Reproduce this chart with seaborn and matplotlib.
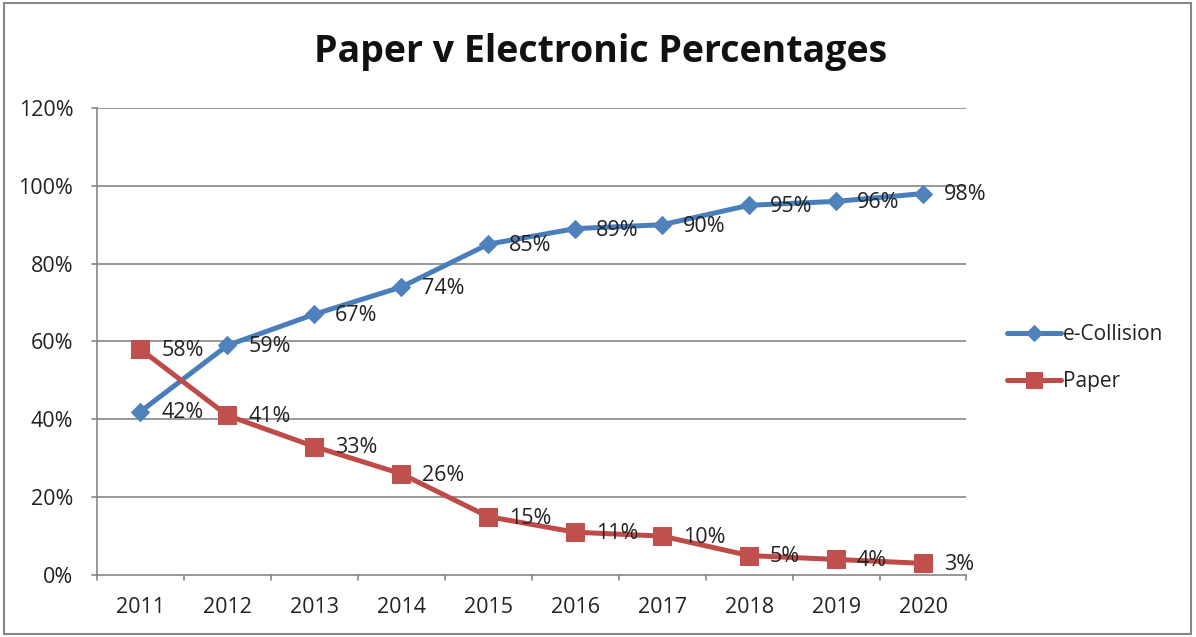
import matplotlib
matplotlib.use("Agg")
import matplotlib.pyplot as plt
import seaborn as sns
import pandas as pd
from matplotlib.patches import Rectangle

years = ["2011", "2012", "2013", "2014", "2015", "2016", "2017", "2018", "2019", "2020"]
e_collision = [42, 59, 67, 74, 85, 89, 90, 95, 96, 98]
paper = [58, 41, 33, 26, 15, 11, 10, 5, 4, 3]
series_names = ["e-Collision", "Paper"]
y_ticks = [0, 20, 40, 60, 80, 100, 120]

sns.set_theme(style="white")
plt.rcParams["font.family"] = ["Open Sans", "DejaVu Sans"]

df = pd.DataFrame({
    "year": list(range(len(years))) * 2,
    "value": e_collision + paper,
    "series": [series_names[0]] * len(years) + [series_names[1]] * len(years),
})

fig = plt.figure(figsize=(11.96, 6.37), dpi=100)
ax = fig.add_axes([0.0811, 0.0973, 0.727, 0.7332])

colors = {"e-Collision": "#4A7EBB", "Paper": "#BE4B48"}
marker_colors = {"e-Collision": "#4F81BD", "Paper": "#C0504D"}
markers = {"e-Collision": "D", "Paper": "s"}
msizes = {"e-Collision": 9, "Paper": 13}

# horizontal gridlines
for t in y_ticks[1:]:
    ax.axhline(t, color="#868686", lw=1.2, zorder=0)

for name in series_names:
    sub = df[df["series"] == name]
    sns.lineplot(data=sub, x="year", y="value", ax=ax, color=colors[name],
                 lw=3.6, marker=markers[name], markersize=msizes[name],
                 markerfacecolor=marker_colors[name], markeredgecolor=marker_colors[name],
                 label=name, zorder=3)
    for xi, v in zip(sub["year"], sub["value"]):
        ax.annotate(f"{v}%", (xi, v), xytext=(15, -1), textcoords="offset points",
                    va="center", ha="left", fontsize=15.5, color="#222222", zorder=4)

ax.set_xlim(-0.5, len(years) - 0.5)
ax.set_ylim(0, 120)
ax.set_yticks(y_ticks)
ax.set_yticklabels([f"{t}%" for t in y_ticks], fontsize=15.5, color="#222222")
ax.set_xticks(range(len(years)))
ax.set_xticklabels(years, fontsize=15.5, color="#222222")
ax.tick_params(axis="x", length=0, pad=16)
ax.tick_params(axis="y", length=0, pad=17)
ax.set_xlabel("")
ax.set_ylabel("")

# category boundary ticks below the axis and small y ticks
for b in [i - 0.5 for i in range(len(years) + 1)]:
    ax.plot([b, b], [0, -1.3], color="#868686", lw=1.2, clip_on=False)
for t in y_ticks:
    ax.plot([-0.5, -0.56], [t, t], color="#868686", lw=1.2, clip_on=False)

for side in ["top", "right"]:
    ax.spines[side].set_visible(False)
for side in ["left", "bottom"]:
    ax.spines[side].set_color("#868686")
    ax.spines[side].set_linewidth(1.2)

leg = ax.legend(loc="center left", bbox_to_anchor=(1.025, 0.465), frameon=False,
                fontsize=15, handlelength=2.6, handletextpad=0.1, labelspacing=1.25,
                markerscale=0.85)
for txt in leg.get_texts():
    txt.set_color("#222222")

fig.text(0.502, 0.918, "Paper v Electronic Percentages", ha="center", va="center",
         fontsize=27, fontweight="bold", color="#111111")

fig.patches.append(Rectangle((0.003, 0.005), 0.993, 0.99, transform=fig.transFigure,
                             fill=False, edgecolor="#888888", lw=1.5))

fig.savefig("out.png", dpi=100)
